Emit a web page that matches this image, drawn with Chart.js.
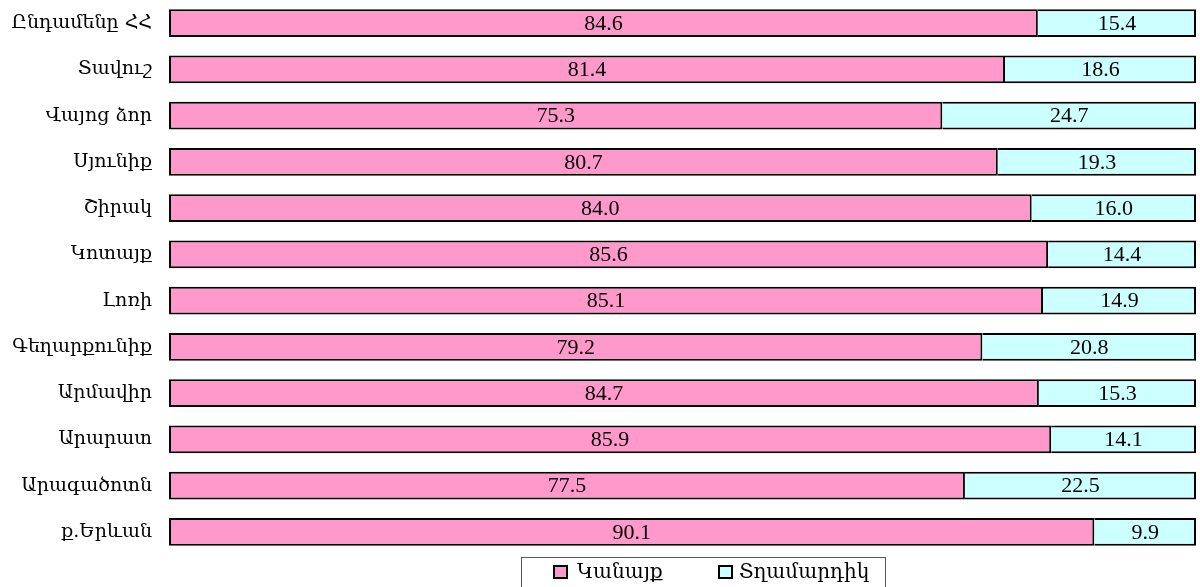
<!DOCTYPE html>
<html>
<head>
<meta charset="utf-8">
<script src="https://cdn.jsdelivr.net/npm/chart.js@4/dist/chart.umd.min.js"></script>
<style>
  html, body { margin: 0; padding: 0; background: #ffffff; }
  #wrap { width: 1200px; height: 587px; position: relative; }
</style>
</head>
<body>
<div id="wrap"><canvas id="c" width="1200" height="587"></canvas></div>
<script>
const categories = ["Ընդամենը ՀՀ", "Տավուշ", "Վայոց ձոր", "Սյունիք", "Շիրակ", "Կոտայք", "Լոռի", "Գեղարքունիք", "Արմավիր", "Արարատ", "Արագածոտն", "ք.Երևան"];
const women = [84.6, 81.4, 75.3, 80.7, 84.0, 85.6, 85.1, 79.2, 84.7, 85.9, 77.5, 90.1];
const men = [15.4, 18.6, 24.7, 19.3, 16.0, 14.4, 14.9, 20.8, 15.3, 14.1, 22.5, 9.9];
const seriesNames = ["Կանայք", "Տղամարդիկ"];
const seriesColors = ["#FF99CC", "#CCFFFF"];

const FONT = '"Liberation Serif", "DejaVu Serif", serif';
const LABEL_FONT = '"DejaVu Serif", "Liberation Serif", serif';

const valueLabels = {
  id: 'valueLabels',
  afterDatasetsDraw(chart) {
    const ctx = chart.ctx;
    ctx.save();
    ctx.font = '22px ' + FONT;
    ctx.fillStyle = '#000';
    ctx.textAlign = 'center';
    ctx.textBaseline = 'middle';
    chart.data.datasets.forEach((ds, i) => {
      const meta = chart.getDatasetMeta(i);
      meta.data.forEach((el, j) => {
        const p = el.getProps(['x', 'y', 'base'], true);
        ctx.fillText(ds.data[j].toFixed(1), (p.x + p.base) / 2, p.y + 1);
      });
    });
    ctx.restore();
  }
};

const boxLegend = {
  id: 'boxLegend',
  afterDraw(chart) {
    const ctx = chart.ctx;
    ctx.save();
    const left = 521, top = 557, right = 885, bottom = 600;
    ctx.strokeStyle = '#555';
    ctx.lineWidth = 1;
    ctx.strokeRect(left + 0.5, top + 0.5, right - left, bottom - top);
    const items = [
      { x: 554, tx: 577 },
      { x: 719, tx: 739 }
    ];
    ctx.font = '20px ' + LABEL_FONT;
    ctx.textBaseline = 'alphabetic';
    ctx.textAlign = 'left';
    chart.data.datasets.forEach((ds, i) => {
      const it = items[i];
      ctx.fillStyle = ds.backgroundColor;
      ctx.fillRect(it.x, 566, 13, 12);
      ctx.strokeStyle = '#000';
      ctx.lineWidth = 2;
      ctx.strokeRect(it.x, 566, 13, 12);
      ctx.fillStyle = '#000';
      ctx.fillText(ds.label, it.tx, 578);
    });
    ctx.restore();
  }
};

new Chart(document.getElementById('c'), {
  type: 'bar',
  data: {
    labels: categories,
    datasets: [
      { label: seriesNames[0], data: women, backgroundColor: seriesColors[0], borderColor: '#000', borderWidth: 2, borderSkipped: false, barPercentage: 0.6, categoryPercentage: 1.0 },
      { label: seriesNames[1], data: men, backgroundColor: seriesColors[1], borderColor: '#000', borderWidth: 2, borderSkipped: 'left', barPercentage: 0.6, categoryPercentage: 1.0 }
    ]
  },
  options: {
    indexAxis: 'y',
    responsive: false,
    animation: false,
    devicePixelRatio: 1,
    layout: { padding: { top: 0, right: 4, bottom: 32, left: 0 } },
    plugins: {
      legend: { display: false },
      tooltip: { enabled: false }
    },
    scales: {
      x: { stacked: true, min: 0, max: 100, display: false },
      y: {
        stacked: true,
        grid: { display: false, drawTicks: false },
        border: { display: false },
        ticks: { color: '#000', font: { family: LABEL_FONT, size: 19 }, padding: 17 },
        afterFit(scale) { scale.width = 169; scale.paddingTop = 0; scale.paddingBottom = 0; }
      }
    }
  },
  plugins: [valueLabels, boxLegend]
});
</script>
</body>
</html>
